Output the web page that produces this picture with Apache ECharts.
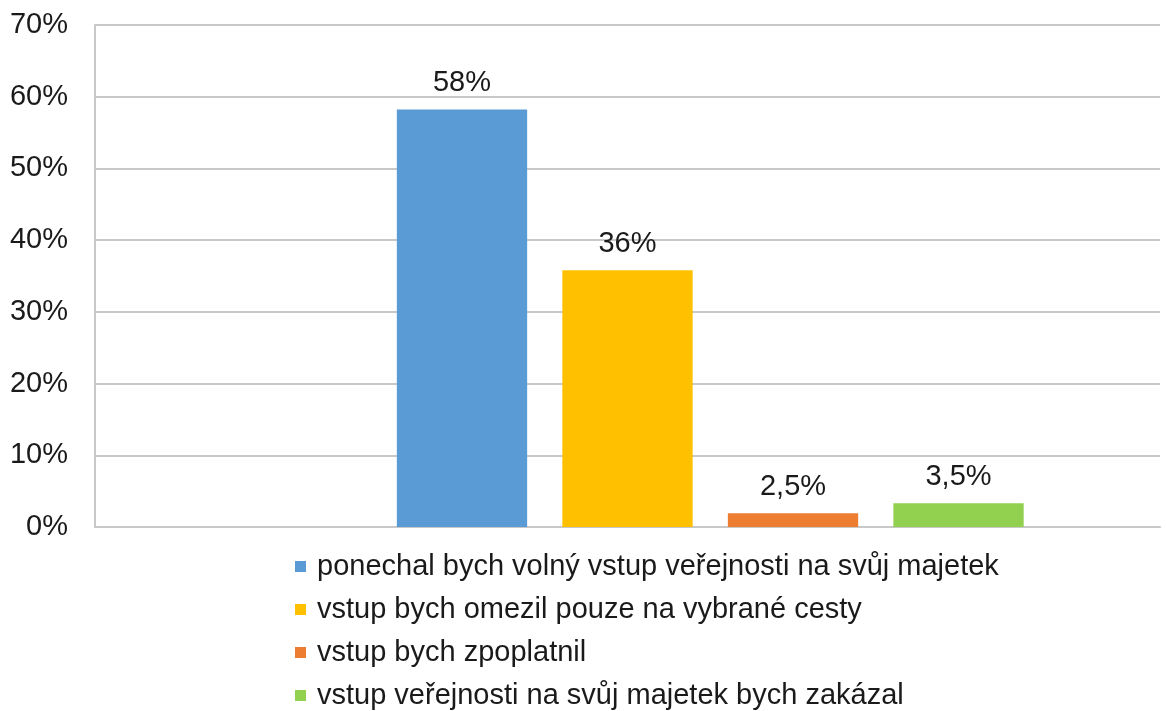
<!DOCTYPE html>
<html>
	<head>
		<meta charset="utf-8">
		<title>Vstup veřejnosti na majetek</title>
		<script src="https://cdn.jsdelivr.net/npm/echarts@6/dist/echarts.min.js"></script>
	</head>
	<body style="margin:0;">
		<div id="main" style="width: 1166px;height:711px;"></div>
		<script type="text/javascript">
			// data
			var seriesNames = ['', 'ponechal bych volný vstup veřejnosti na svůj majetek', 'vstup bych omezil pouze na vybrané cesty', 'vstup bych zpoplatnil', 'vstup veřejnosti na svůj majetek bych zakázal'];
			var seriesValues = [0, 58.2, 35.8, 1.9, 3.3];
			var labelTexts = ['', '58%', '36%', '2,5%', '3,5%'];
			var colors = ['#ffffff', '#5b9bd5', '#ffc000', '#ed7d31', '#92d050'];
			var yTicks = [0, 10, 20, 30, 40, 50, 60, 70];

			var myChart = echarts.init(document.getElementById('main'));
			var font = 'Liberation Sans, Arial, sans-serif';

			var series = seriesNames.map(function (name, i) {
				return {
					type: 'bar',
					name: name,
					data: [seriesValues[i]],
					barGap: '27%',
					barCategoryGap: '25.6%',
					itemStyle: {color: colors[i]},
					label: {
						show: labelTexts[i] !== '',
						position: 'top',
						distance: 12,
						formatter: function () { return labelTexts[i]; },
						color: '#1a1a1a',
						fontSize: 29,
						fontFamily: font
					}
				};
			});

			var option = {
				animation: false,
				backgroundColor: '#fff',
				grid: {left: 95, right: 6, top: 25, bottom: 184},
				legend: {
					orient: 'vertical',
					left: 290,
					top: 547,
					height: 170,
					icon: 'rect',
					itemWidth: 11,
					itemHeight: 11,
					itemGap: 14,
					data: seriesNames.slice(1),
					textStyle: {color: '#1a1a1a', fontSize: 29, fontFamily: font, padding: [0, 0, 0, 6]}
				},
				xAxis: {
					type: 'category',
					data: [''],
					axisLine: {lineStyle: {color: '#c8c8c8', width: 2}},
					axisTick: {show: false},
					axisLabel: {show: false}
				},
				yAxis: {
					type: 'value',
					min: yTicks[0],
					max: yTicks[yTicks.length - 1],
					interval: 10,
					axisLine: {show: true, lineStyle: {color: '#c8c8c8', width: 2}},
					axisTick: {show: false},
					splitLine: {lineStyle: {color: '#c8c8c8', width: 2}},
					axisLabel: {
						margin: 27,
						color: '#1a1a1a',
						fontSize: 29,
						fontFamily: font,
						formatter: '{value}%'
					}
				},
				series: series
			};

			myChart.setOption(option);
		</script>
	</body>
</html>
